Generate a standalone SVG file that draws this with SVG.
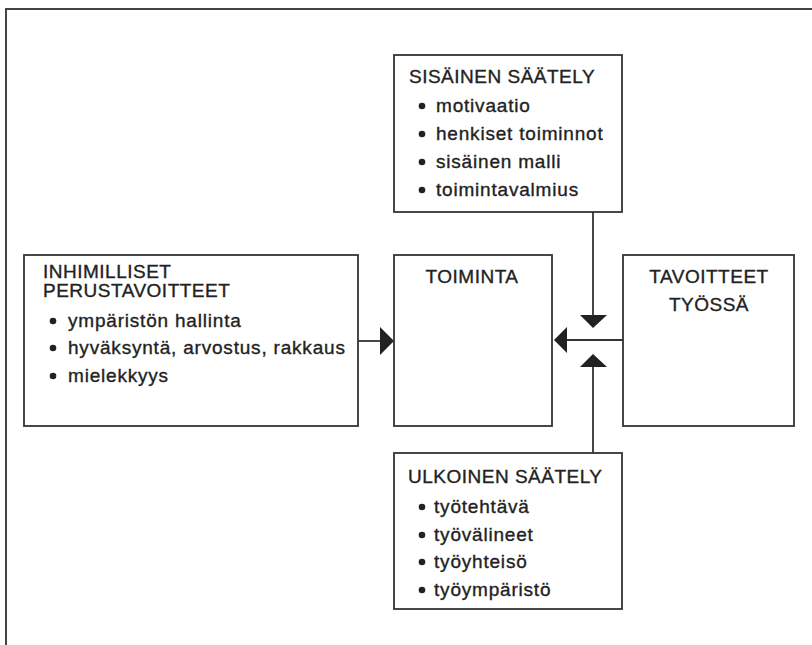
<svg xmlns="http://www.w3.org/2000/svg" width="812" height="645" viewBox="0 0 812 645">
<style>
  .box { fill: #fff; stroke: #333; stroke-width: 1.8; }
  .frame { fill: none; stroke: #444; stroke-width: 2; }
  .conn { fill: none; stroke: #333; stroke-width: 1.8; }
  .head { fill: #222; stroke: none; }
  .title { font-family: "Liberation Sans", Arial, sans-serif; font-size: 19px; fill: #222; stroke: #222; stroke-width: 0.35; letter-spacing: 0.5px; }
  .item { font-family: "Liberation Sans", Arial, sans-serif; font-size: 19px; fill: #222; stroke: #222; stroke-width: 0.35; letter-spacing: 0.8px; }
  .dot { fill: #222; }
  .mid { text-anchor: middle; }
</style>
<path class="frame" d="M6,645 V9 H812"/>

<g id="connectors">
  <line class="conn" x1="358" y1="341" x2="382" y2="341"/>
  <polygon class="head" points="380,327 394,341 380,355"/>
  <line class="conn" x1="623" y1="340" x2="565" y2="340"/>
  <polygon class="head" points="567,327 554,340 567,353"/>
  <line class="conn" x1="593" y1="212" x2="593" y2="317"/>
  <polygon class="head" points="580,315 607,315 593,328"/>
  <line class="conn" x1="593" y1="453" x2="593" y2="365"/>
  <polygon class="head" points="580,367 607,367 593,354"/>
</g>

<g id="sisainen">
  <rect class="box" x="394" y="55" width="228" height="157"/>
  <text class="title" x="409" y="83">SISÄINEN SÄÄTELY</text>
  <circle class="dot" cx="422" cy="106" r="3.3"/>
  <text class="item" x="436" y="112">motivaatio</text>
  <circle class="dot" cx="422" cy="134" r="3.3"/>
  <text class="item" x="436" y="140">henkiset toiminnot</text>
  <circle class="dot" cx="422" cy="162" r="3.3"/>
  <text class="item" x="436" y="168">sisäinen malli</text>
  <circle class="dot" cx="422" cy="190" r="3.3"/>
  <text class="item" x="436" y="196">toimintavalmius</text>
</g>

<g id="inhimilliset">
  <rect class="box" x="24" y="255" width="334" height="171"/>
  <text class="title" x="43" y="278">INHIMILLISET</text>
  <text class="title" x="43" y="297">PERUSTAVOITTEET</text>
  <circle class="dot" cx="53" cy="321" r="3.3"/>
  <text class="item" x="68" y="327">ympäristön hallinta</text>
  <circle class="dot" cx="53" cy="348" r="3.3"/>
  <text class="item" x="68" y="354">hyväksyntä, arvostus, rakkaus</text>
  <circle class="dot" cx="53" cy="376" r="3.3"/>
  <text class="item" x="68" y="382">mielekkyys</text>
</g>

<g id="toiminta">
  <rect class="box" x="394" y="255" width="158" height="171"/>
  <text class="title mid" x="472" y="283">TOIMINTA</text>
</g>

<g id="tavoitteet">
  <rect class="box" x="623" y="255" width="171" height="171"/>
  <text class="title mid" x="709" y="283">TAVOITTEET</text>
  <text class="title mid" x="709" y="311">TYÖSSÄ</text>
</g>

<g id="ulkoinen">
  <rect class="box" x="394" y="453" width="228" height="156"/>
  <text class="title" x="408" y="483">ULKOINEN SÄÄTELY</text>
  <circle class="dot" cx="422" cy="507" r="3.3"/>
  <text class="item" x="434" y="513">työtehtävä</text>
  <circle class="dot" cx="422" cy="535" r="3.3"/>
  <text class="item" x="434" y="541">työvälineet</text>
  <circle class="dot" cx="422" cy="562" r="3.3"/>
  <text class="item" x="434" y="568">työyhteisö</text>
  <circle class="dot" cx="422" cy="590" r="3.3"/>
  <text class="item" x="434" y="596">työympäristö</text>
</g>
</svg>
